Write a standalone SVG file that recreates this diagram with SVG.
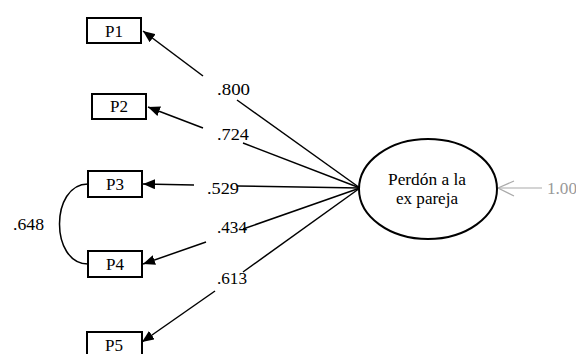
<svg xmlns="http://www.w3.org/2000/svg" width="576" height="354" viewBox="0 0 576 354">
<style>
.box{fill:#fff;stroke:#000;stroke-width:2}
text{font-family:'Liberation Serif','DejaVu Serif','Times New Roman',serif;fill:#000}
.bt{font-size:16px;text-anchor:middle}
.lbl{font-size:17px}
.ln{stroke:#000;stroke-width:1.5;fill:none}
.gr{stroke:#aaa;stroke-width:1.2;fill:none}
</style>
<defs>
<marker id="ah" viewBox="0 0 12 10" refX="12" refY="5" markerWidth="12" markerHeight="10" markerUnits="userSpaceOnUse" orient="auto">
<path d="M0,0 L12,5 L0,10 Z" fill="#000"/>
</marker>
</defs>
<rect width="576" height="354" fill="#fff"/>
<g id="connectors">
<line class="ln" x1="203" y1="76" x2="143" y2="31" marker-end="url(#ah)"/>
<line class="ln" x1="237" y1="100" x2="360" y2="188"/>
<line class="ln" x1="203" y1="128" x2="148" y2="107" marker-end="url(#ah)"/>
<line class="ln" x1="243" y1="143" x2="360" y2="188"/>
<line class="ln" x1="194" y1="185" x2="143" y2="184" marker-end="url(#ah)"/>
<line class="ln" x1="237" y1="186" x2="360" y2="188"/>
<line class="ln" x1="206" y1="242" x2="143" y2="264" marker-end="url(#ah)"/>
<line class="ln" x1="243" y1="229" x2="360" y2="188"/>
<line class="ln" x1="215" y1="291" x2="142" y2="342" marker-end="url(#ah)"/>
<line class="ln" x1="243" y1="272" x2="360" y2="188"/>
<path class="ln" d="M88,184 C50,184 50,264 88,264"/>
<line class="gr" x1="542" y1="188" x2="498" y2="188"/>
<path class="gr" d="M514,181 L498,188 L514,196"/>
<text class="lbl" x="217" y="95" textLength="33" lengthAdjust="spacingAndGlyphs">.800</text>
<text class="lbl" x="217" y="140" textLength="32" lengthAdjust="spacingAndGlyphs">.724</text>
<text class="lbl" x="207" y="194" textLength="32" lengthAdjust="spacingAndGlyphs">.529</text>
<text class="lbl" x="217" y="233" textLength="30" lengthAdjust="spacingAndGlyphs">.434</text>
<text class="lbl" x="217" y="284" textLength="30" lengthAdjust="spacingAndGlyphs">.613</text>
<text class="lbl" x="13" y="230" textLength="31" lengthAdjust="spacingAndGlyphs">.648</text>
<text class="lbl" x="547" y="194" style="fill:#999" textLength="30" lengthAdjust="spacingAndGlyphs">1.00</text>
</g>
<g id="P1"><rect class="box" x="87" y="18" width="54" height="25"/><text class="bt" x="114" y="37" textLength="18" lengthAdjust="spacingAndGlyphs">P1</text></g>
<g id="P2"><rect class="box" x="92" y="94" width="54" height="25"/><text class="bt" x="119" y="112" textLength="18" lengthAdjust="spacingAndGlyphs">P2</text></g>
<g id="P3"><rect class="box" x="88" y="171" width="54" height="26"/><text class="bt" x="115" y="190" textLength="18" lengthAdjust="spacingAndGlyphs">P3</text></g>
<g id="P4"><rect class="box" x="88" y="251" width="54" height="26"/><text class="bt" x="115" y="270" textLength="18" lengthAdjust="spacingAndGlyphs">P4</text></g>
<g id="P5"><rect class="box" x="87" y="332" width="55" height="26"/><text class="bt" x="114" y="351" textLength="18" lengthAdjust="spacingAndGlyphs">P5</text></g>
<g id="perdon">
<ellipse cx="428" cy="189" rx="69" ry="50" fill="#fff" stroke="#000" stroke-width="2"/>
<text x="427" y="185" font-size="17" text-anchor="middle" textLength="78" lengthAdjust="spacingAndGlyphs">Perdón a la</text>
<text x="427" y="204" font-size="17" text-anchor="middle" textLength="62" lengthAdjust="spacingAndGlyphs">ex pareja</text>
</g>
</svg>
